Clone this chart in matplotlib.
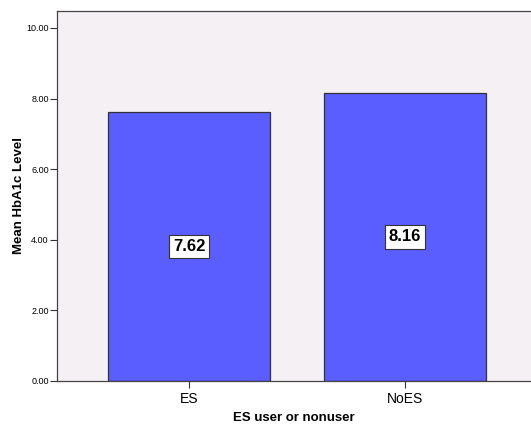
import matplotlib
matplotlib.use("Agg")
from matplotlib import pyplot as plt

groups = ["ES", "NoES"]
means = [7.62, 8.16]
yticks = [0, 2, 4, 6, 8, 10]

plt.rcParams['font.family'] = ['Liberation Sans', 'DejaVu Sans']

fig = plt.figure(figsize=(5.31, 4.24), dpi=100)
ax = fig.add_axes([57/531, 43/424, 1 - 57/531, (381 - 11)/424])
ax.set_facecolor('#f5f0f3')

pos = list(range(len(groups)))
bars = ax.bar(pos, means, width=0.75, color='#5a5eff', edgecolor='#333333', linewidth=0.9)

for p, m in zip(pos, means):
    ax.text(p, m / 2, f"{m:.2f}", ha='center', va='center', fontsize=12, fontweight='bold',
            bbox=dict(boxstyle='square,pad=0.25', facecolor='white', edgecolor='#333333', linewidth=0.8))

ax.set_xlim(-0.611, 1.583)
ax.set_ylim(0, 10.48)
ax.set_xticks(pos)
ax.set_xticklabels(groups, fontsize=10)
ax.set_yticks(yticks)
ax.set_yticklabels([f"{v:.2f}" for v in yticks], fontsize=6.5)
ax.tick_params(axis='y', direction='out', length=5, width=0.8, pad=1, colors='#333333', labelcolor='black')
ax.tick_params(axis='x', direction='out', length=5, width=0.8, pad=3, colors='#333333', labelcolor='black')
for s in ['left', 'top', 'bottom']:
    ax.spines[s].set_color('#444444')
    ax.spines[s].set_linewidth(0.9)
ax.spines['right'].set_visible(False)

ax.set_ylabel('Mean HbA1c Level', fontsize=9.5, fontweight='bold', labelpad=1)
ax.set_xlabel('ES user or nonuser', fontsize=9.5, fontweight='bold', labelpad=4)

fig.savefig('out.png', dpi=100)
